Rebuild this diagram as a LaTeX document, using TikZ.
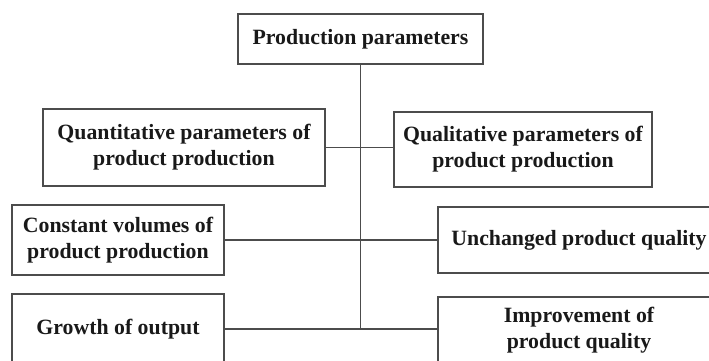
\documentclass[tikz,border=0pt]{standalone}
\usepackage{fontspec}
\setmainfont{Liberation Serif}
\begin{document}
\begin{tikzpicture}[x=1pt,y=-1pt,
  box/.style={draw=black!70,line width=1.3pt,rectangle,inner sep=0pt,align=center,
    font=\bfseries\fontsize{21.8}{26}\selectfont,text=black!90},
  link/.style={draw=black!70,line width=1.3pt}]
\useasboundingbox (0,0) rectangle (709,360);
\clip (0,0) rectangle (709,360);
\node[box,minimum width=245,minimum height=50] (top) at (360.5,39) {Production parameters};
\node[box,minimum width=282,minimum height=77] (quant) at (184,147.5) {Quantitative parameters of\\product production};
\node[box,minimum width=258,minimum height=75] (qual) at (523,149.5) {Qualitative parameters of\\product production};
\node[box,minimum width=212,minimum height=70] (const) at (118,240) {Constant volumes of\\product production};
\node[box,minimum width=282,minimum height=66] (unch) at (579,240) {Unchanged product quality};
\node[box,minimum width=212,minimum height=70] (grow) at (118,329) {Growth of output};
\node[box,minimum width=282,minimum height=66] (impr) at (579,330) {Improvement of\\product quality};
\coordinate (bot) at (top.south |- grow.east);
\draw[link] (top.south) -- (bot);
\draw[link] (quant.east) -- (quant.east -| qual.west);
\draw[link] (const.east) -- (const.east -| unch.west);
\draw[link] (grow.east) -- (grow.east -| impr.west);
\end{tikzpicture}
\end{document}
